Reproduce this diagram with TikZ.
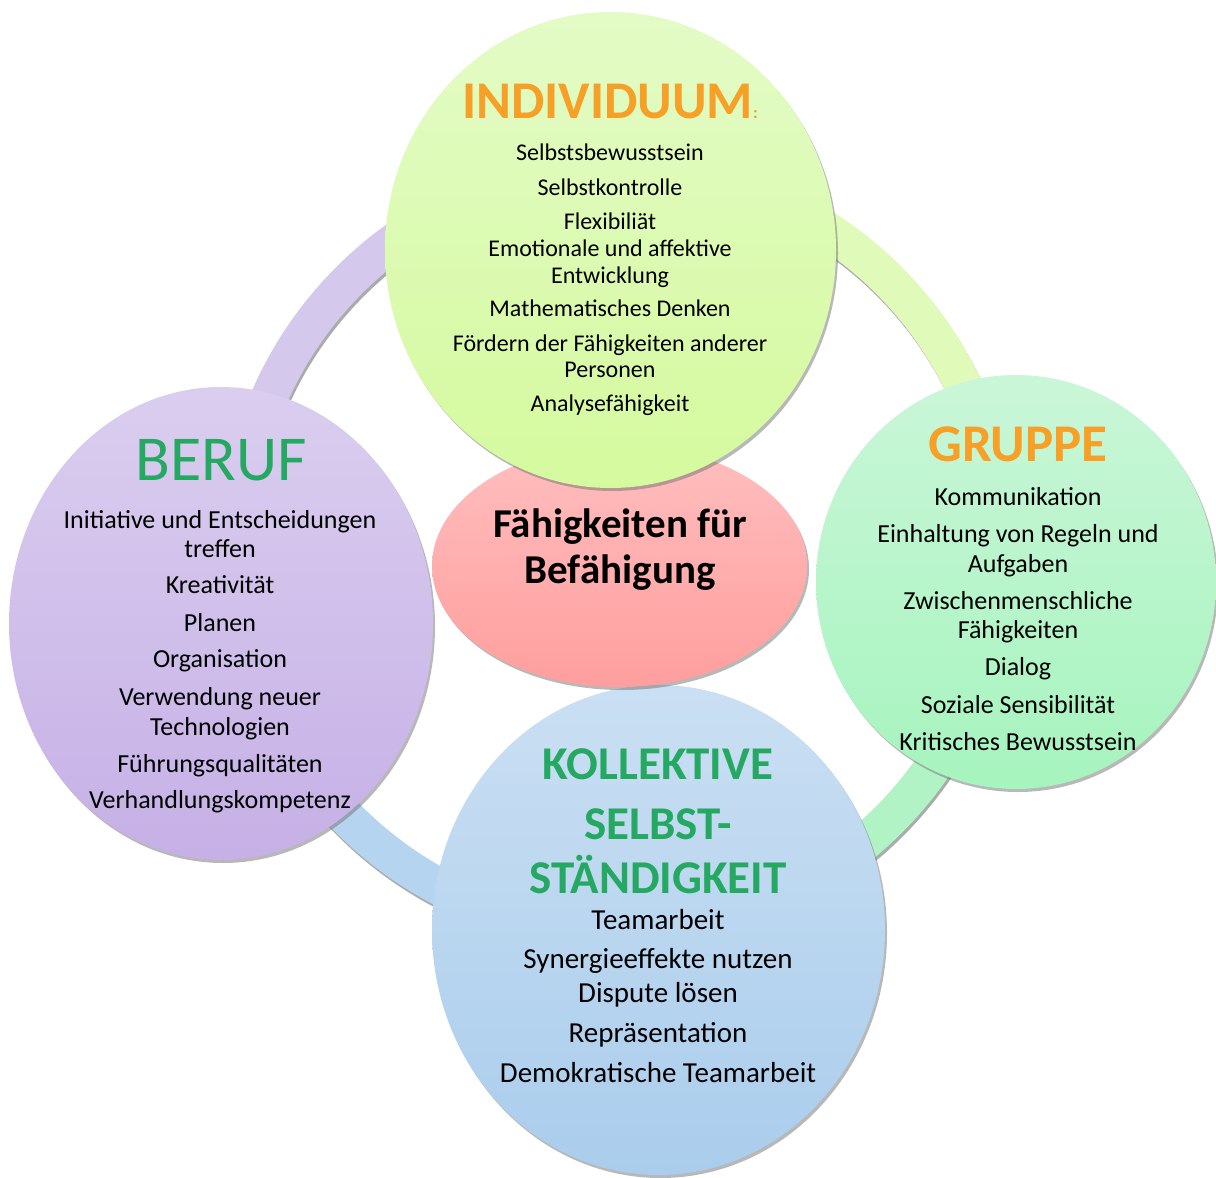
\documentclass[tikz,border=0pt]{standalone}
\usepackage{fontspec}
\setmainfont{Carlito}
\usetikzlibrary{shapes.geometric,calc}
\definecolor{orangeT}{RGB}{247,160,40}
\definecolor{greenT}{RGB}{36,168,98}
\definecolor{ringP}{RGB}{212,200,236}
\definecolor{ringG}{RGB}{224,250,186}
\definecolor{ringM}{RGB}{178,243,198}
\definecolor{ringB}{RGB}{180,212,240}
\definecolor{indTop}{RGB}{227,251,198}
\definecolor{indBot}{RGB}{213,250,158}
\definecolor{berTop}{RGB}{218,206,239}
\definecolor{berBot}{RGB}{198,176,230}
\definecolor{grpTop}{RGB}{202,246,216}
\definecolor{grpBot}{RGB}{166,244,190}
\definecolor{kolTop}{RGB}{202,223,243}
\definecolor{kolBot}{RGB}{170,205,236}
\definecolor{pinkTop}{RGB}{255,190,190}
\definecolor{pinkBot}{RGB}{255,158,158}
\begin{document}
\begin{tikzpicture}[x=1pt,y=-1pt,
  blob/.style={ellipse, inner sep=0pt, draw=none},
  shade/.style={ellipse, inner sep=0pt, draw=none, fill=black!55, fill opacity=0.5},
  band/.style={line width=37pt},
  bandshadow/.style={line width=37pt, draw=black!55, draw opacity=0.6},
  ttl/.style={anchor=base, inner sep=0pt, font=\fontsize{53}{60}\selectfont\bfseries, text=orangeT},
  itemS/.style={anchor=base, inner sep=0pt, font=\fontsize{24}{27}\selectfont},
  itemM/.style={anchor=base, inner sep=0pt, font=\fontsize{26}{29}\selectfont},
  itemL/.style={anchor=base, inner sep=0pt, font=\fontsize{29}{33}\selectfont},
  kolT/.style={anchor=base, inner sep=0pt, font=\fontsize{47}{52}\selectfont\bfseries, text=greenT}]
\useasboundingbox (0,0) rectangle (1216,1178);
\fill[white] (0,0) rectangle (1216,1178);
% ring shadow
\foreach \a/\b in {180/270,270/360,0/90,90/180}{
  \draw[bandshadow] ($(619,550)+(1.5,3)+(\a:381.5)$) arc[start angle=\a, end angle=\b, radius=381.5];
}
\draw[band, ringP] ($(619,550)+(180:381.5)$) arc[start angle=180, end angle=270, radius=381.5];
\draw[band, ringG] ($(619,550)+(270:381.5)$) arc[start angle=270, end angle=360, radius=381.5];
\draw[band, ringM] ($(619,550)+(0:381.5)$) arc[start angle=0, end angle=90, radius=381.5];
\draw[band, ringB] ($(619,550)+(90:381.5)$) arc[start angle=90, end angle=180, radius=381.5];
% bottom circle
\node[shade, minimum width=453pt, minimum height=490pt] (kolS) at (660.5,933) {};
\node[blob, minimum width=453pt, minimum height=490pt, top color=kolTop, bottom color=kolBot] (kol) at (658.5,930) {};
% center ellipse
\node[shade, minimum width=375pt, minimum height=242pt] (cenS) at (621.5,569) {};
\node[blob, minimum width=375pt, minimum height=242pt, top color=pinkTop, bottom color=pinkBot] (cen) at (619.5,566) {};
% top circle
\node[shade, minimum width=451pt, minimum height=476pt] (indS) at (612.5,253) {};
\node[blob, minimum width=451pt, minimum height=476pt, top color=indTop, bottom color=indBot] (ind) at (610.5,250) {};
% left circle
\node[shade, minimum width=424pt, minimum height=473pt] (berS) at (223,626.5) {};
\node[blob, minimum width=424pt, minimum height=473pt, top color=berTop, bottom color=berBot] (ber) at (221,623.5) {};
% right circle
\node[shade, minimum width=400pt, minimum height=414pt] (grpS) at (1018,585) {};
\node[blob, minimum width=400pt, minimum height=414pt, top color=grpTop, bottom color=grpBot] (grp) at (1016,582) {};
% texts: centre
\node[anchor=base, inner sep=0pt, font=\fontsize{41}{44}\selectfont\bfseries] (c1) at (620,537) {Fähigkeiten für};
\node[anchor=base, inner sep=0pt, font=\fontsize{41}{44}\selectfont\bfseries] (c2) at (620,583) {Befähigung};
% Individuum
\node[ttl] (it) at (610,118) {INDIVIDUUM{\fontsize{17}{17}\selectfont:}};
\node[itemS] (i1) at (610,160) {Selbstsbewusstsein};
\node[itemS] (i2) at (610,195) {Selbstkontrolle};
\node[itemS] (i3) at (610,229) {Flexibiliät};
\node[itemS] (i4) at (610,256) {Emotionale und affektive};
\node[itemS] (i5) at (610,283) {Entwicklung};
\node[itemS] (i6) at (610,316) {Mathematisches Denken};
\node[itemS] (i7) at (610,351) {Fördern der Fähigkeiten anderer};
\node[itemS] (i8) at (610,377) {Personen};
\node[itemS] (i9) at (610,411) {Analysefähigkeit};
% Beruf
\node[anchor=base, inner sep=0pt, font=\fontsize{64}{70}\selectfont, text=greenT] (bt) at (221,480) {BERUF};
\node[itemM] (b1) at (220,528) {Initiative und Entscheidungen};
\node[itemM] (b2) at (220,557) {treffen};
\node[itemM] (b3) at (220,593) {Kreativität};
\node[itemM] (b4) at (220,631) {Planen};
\node[itemM] (b5) at (220,667) {Organisation};
\node[itemM] (b6) at (220,705) {Verwendung neuer};
\node[itemM] (b7) at (220,735) {Technologien};
\node[itemM] (b8) at (220,772) {Führungsqualitäten};
\node[itemM] (b9) at (220,808) {Verhandlungskompetenz};
% Gruppe
\node[ttl] (gt) at (1018,461) {GRUPPE};
\node[itemM] (g1) at (1018,505) {Kommunikation};
\node[itemM] (g2) at (1018,542) {Einhaltung von Regeln und};
\node[itemM] (g3) at (1018,572) {Aufgaben};
\node[itemM] (g4) at (1018,609) {Zwischenmenschliche};
\node[itemM] (g5) at (1018,638) {Fähigkeiten};
\node[itemM] (g6) at (1018,675) {Dialog};
\node[itemM] (g7) at (1018,713) {Soziale Sensibilität};
\node[itemM] (g8) at (1018,750) {Kritisches Bewusstsein};
% Kollektive
\node[kolT] (kt1) at (658,779) {KOLLEKTIVE};
\node[kolT] (kt2) at (658,839) {SELBST-};
\node[kolT] (kt3) at (658,893) {STÄNDIGKEIT};
\node[itemL] (k1) at (658,929) {Teamarbeit};
\node[itemL] (k2) at (658,968) {Synergieeffekte nutzen};
\node[itemL] (k3) at (658,1002) {Dispute lösen};
\node[itemL] (k4) at (658,1042) {Repräsentation};
\node[itemL] (k5) at (658,1082) {Demokratische Teamarbeit};
\end{tikzpicture}
\end{document}
